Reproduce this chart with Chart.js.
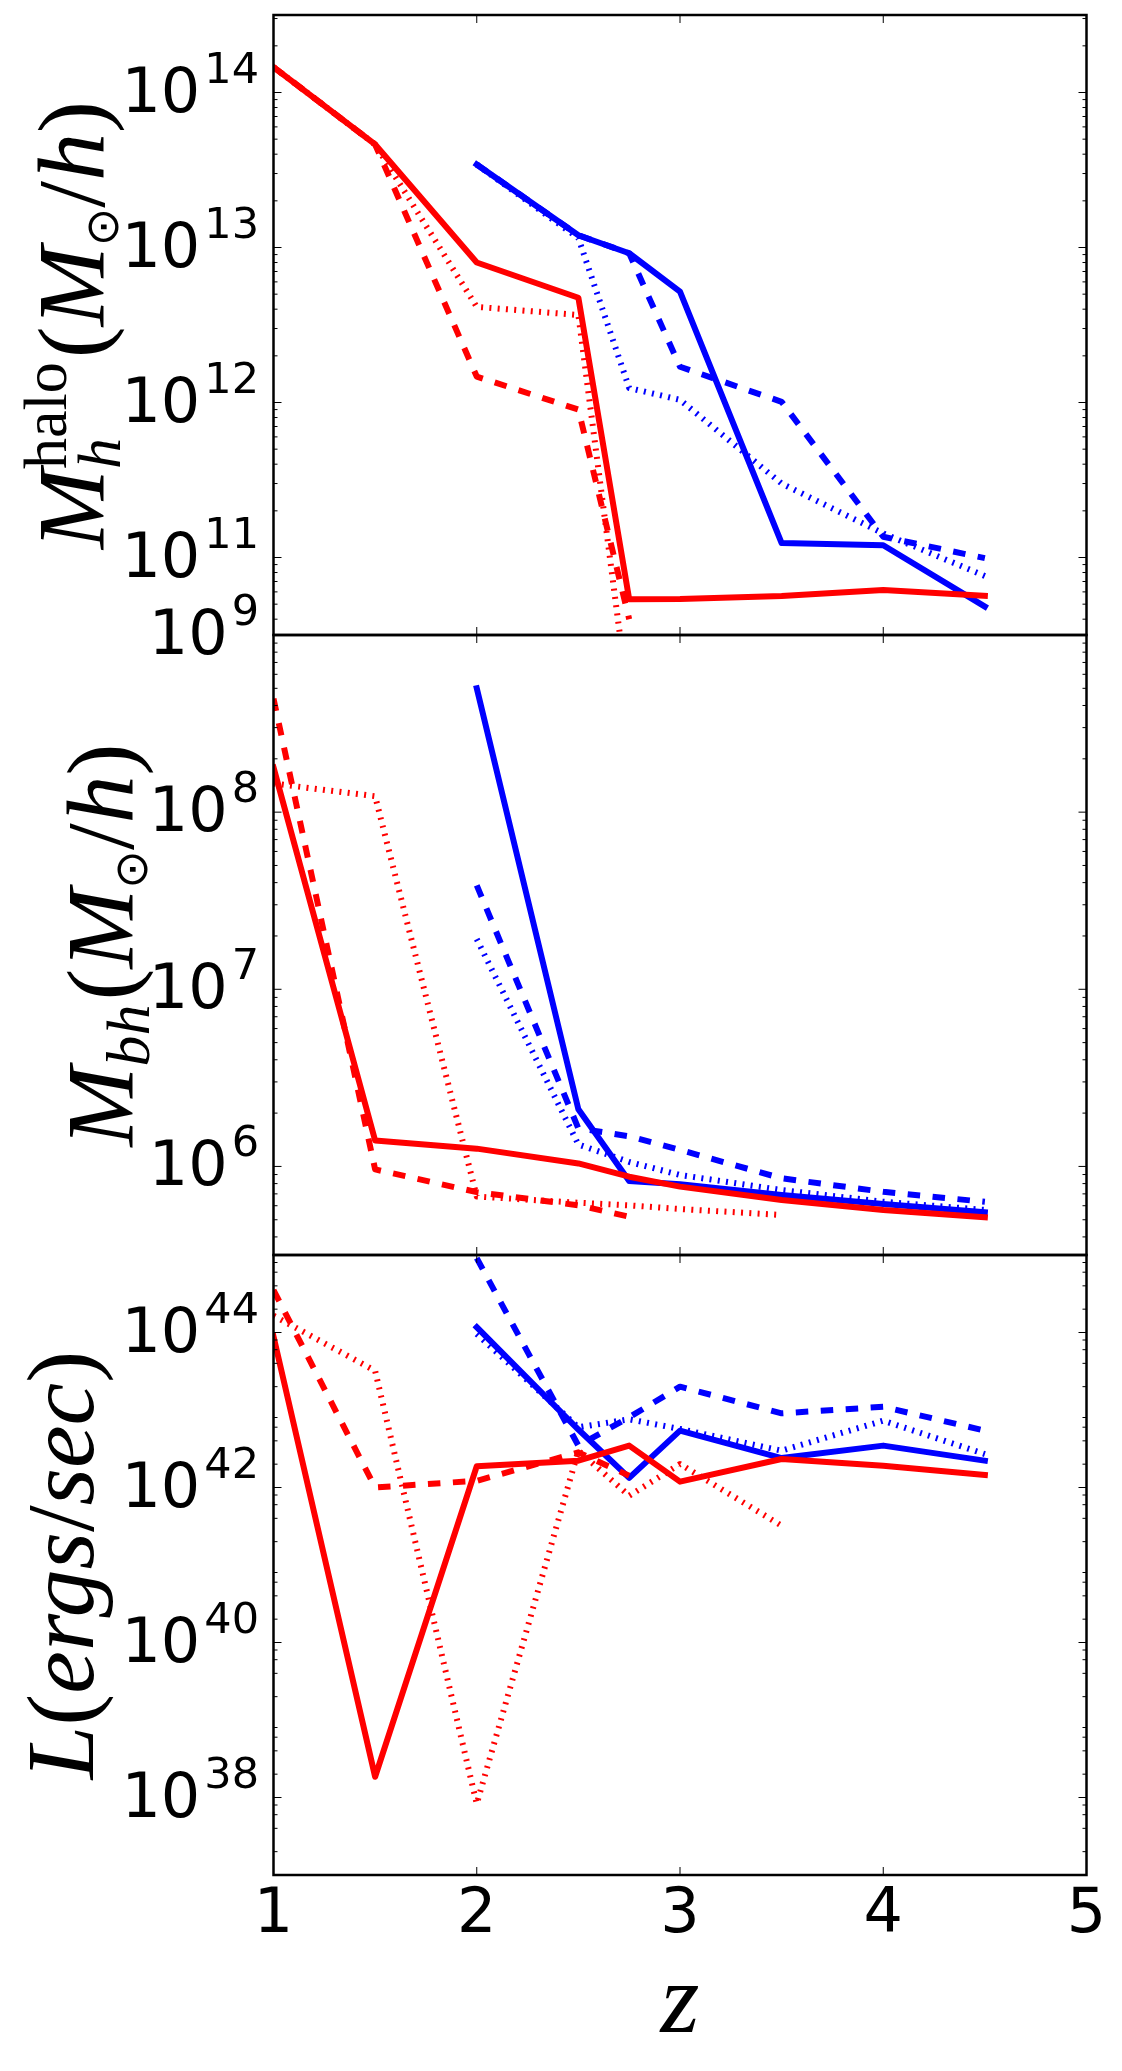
<!DOCTYPE html>
<html>
<head>
<meta charset="utf-8">
<script src="https://cdn.jsdelivr.net/npm/chart.js@4.4.0/dist/chart.umd.min.js"></script>
<style>
  html, body { margin: 0; padding: 0; background: #fff; }
  #wrap { position: relative; width: 1122px; height: 2071px; }
  #wrap canvas { position: absolute; left: 0; top: 0; }
</style>
</head>
<body>
<div id="wrap">
  <canvas id="haloChart" width="1122" height="2071"></canvas>
  <canvas id="bhChart" width="1122" height="2071"></canvas>
  <canvas id="lumChart" width="1122" height="2071"></canvas>
</div>
<script>
// redshift of each snapshot
const redshifts = [1, 1.5, 2, 2.5, 2.75, 3, 3.5, 4, 4.5];
const xTickValues = [1, 2, 3, 4, 5];

// halo mass M_h (M_sun/h)
const haloRedSolid   = [1.46e14, 4.62e13, 8.0e12, 4.74e12, 5.37e10, 5.4e10, 5.65e10, 6.17e10, 5.65e10];
const haloRedDashed  = [1.46e14, 4.62e13, 1.47e12, 9.0e11, 4.0e10, null, null, null, null];
const haloRedDotted  = [1.46e14, 4.62e13, 4.14e12, 3.67e12, 1.1e10, null, null, null, null];
const haloBlueSolid  = [null, null, 3.43e13, 1.2e13, 9.18e12, 5.19e12, 1.24e11, 1.2e11, 4.82e10];
const haloBlueDashed = [null, null, 3.43e13, 1.2e13, 9.18e12, 1.7e12, 1.01e12, 1.36e11, 9.9e10];
const haloBlueDotted = [null, null, 3.43e13, 1.15e13, 1.24e12, 1.04e12, 3.0e11, 1.43e11, 7.6e10];
const haloTickExps = [11, 12, 13, 14];

// black hole mass M_bh (M_sun/h)
const bhRedSolid   = [1.79e8, 1.4e6, 1.26e6, 1.04e6, 8.75e5, 7.69e5, 6.46e5, 5.68e5, 5.16e5];
const bhRedDashed  = [4.37e8, 9.62e5, 7.16e5, 6.03e5, 5.2e5, null, null, null, null];
const bhRedDotted  = [1.45e8, 1.23e8, 6.76e5, 6.24e5, 6.03e5, 5.75e5, 5.32e5, null, null];
const bhBlueSolid  = [null, null, 5.0e8, 2.1e6, 8.28e5, 7.93e5, 6.9e5, 6.14e5, 5.51e5];
const bhBlueDashed = [null, null, 3.86e7, 1.64e6, 1.48e6, 1.24e6, 8.57e5, 7.19e5, 6.31e5];
const bhBlueDotted = [null, null, 1.92e7, 1.33e6, 1.06e6, 8.95e5, 7.36e5, 6.32e5, 5.68e5];
const bhTickExps = [6, 7, 8, 9];

// luminosity L (ergs/sec)
const lumRedSolid   = [8.9e43, 1.85e38, 1.88e42, 2.22e42, 3.47e42, 1.19e42, 2.33e42, 1.91e42, 1.45e42];
const lumRedDashed  = [3.53e44, 1.0e42, 1.22e42, 2.84e42, 1.42e42, null, null, null, null];
const lumRedDotted  = [1.65e44, 3.21e43, 8.3e37, 2.99e42, 7.83e41, 2.01e42, 3.21e41, null, null];
const lumBlueSolid  = [null, null, 1.17e44, 5.6e42, 1.33e42, 5.41e42, 2.4e42, 3.47e42, 2.22e42];
const lumBlueDashed = [null, null, 9.1e44, 3.47e42, 8.05e42, 2.0e43, 9.06e42, 1.1e43, 5.41e42];
const lumBlueDotted = [null, null, 9.57e43, 5.98e42, 7.59e42, 5.69e42, 2.99e42, 7.28e42, 2.7e42];
const lumTickExps = [38, 40, 42, 44];

const W = 1122, H = 2071;
const PLOT_LEFT = 273.5, PLOT_RIGHT = 1086.5;
const SERIF = '"Liberation Serif", "DejaVu Serif", serif';
const SANS = '"DejaVu Sans", sans-serif';
const RED = '#ff0000', BLUE = '#0000ff';

function pts(ys) {
  const out = [];
  redshifts.forEach((z, i) => { if (ys[i] !== null) out.push({ x: z, y: ys[i] }); });
  return out;
}

function line(ys, color, style) {
  let dash = [];
  if (style === 'dashed') dash = [12.5, 12.5];
  if (style === 'dotted') dash = [2, 6.3];
  return {
    data: pts(ys),
    borderColor: color,
    borderWidth: 6,
    borderDash: dash,
    borderCapStyle: style === 'solid' ? 'square' : 'butt',
    borderJoinStyle: 'round',
    pointRadius: 0,
    tension: 0,
    fill: false
  };
}

function drawMath(ctx, parts, baseX, centerY) {
  let total = 0;
  parts.forEach(p => {
    ctx.font = p.font;
    p.w = ctx.measureText(p.text).width;
    if (!p.stack) total += p.w + (p.kern || 0);
  });
  ctx.save();
  ctx.translate(baseX, centerY);
  ctx.rotate(-Math.PI / 2);
  ctx.textAlign = 'left';
  ctx.textBaseline = 'alphabetic';
  let x = -total / 2;
  parts.forEach(p => {
    ctx.font = p.font;
    ctx.fillText(p.text, x + (p.kern || 0), p.dy || 0);
    if (!p.stack) x += p.w + (p.kern || 0);
  });
  ctx.restore();
}

const panelDecor = {
  id: 'panelDecor',
  afterDraw(chart, args, o) {
    const ctx = chart.ctx;
    const a = chart.chartArea;
    const xs = chart.scales.x, ys = chart.scales.y;
    ctx.save();
    ctx.strokeStyle = '#000';
    ctx.fillStyle = '#000';

    // ticks, inside on all four sides
    ctx.lineWidth = 1;
    ctx.beginPath();
    const yTick = (v, len) => {
      const py = ys.getPixelForValue(v);
      if (py < a.top + 1 || py > a.bottom - 1) return;
      ctx.moveTo(a.left, py); ctx.lineTo(a.left + len, py);
      ctx.moveTo(a.right, py); ctx.lineTo(a.right - len, py);
    };
    const lo = Math.floor(Math.log10(ys.min)) - 1, hi = Math.ceil(Math.log10(ys.max)) + 1;
    for (let k = lo; k <= hi; k++) {
      if (o.tickExps.includes(k) || (o.step === 1) || (k % 2 === 0)) {
        if (o.step === 1 || k % 2 === 0) yTick(Math.pow(10, k), 8);
      }
      o.subs.forEach(m => yTick(m * Math.pow(10, k), 4));
    }
    xTickValues.forEach(z => {
      const px = xs.getPixelForValue(z);
      if (px < a.left + 1 || px > a.right - 1) return;
      ctx.moveTo(px, a.top); ctx.lineTo(px, a.top + 8);
      ctx.moveTo(px, a.bottom); ctx.lineTo(px, a.bottom - 8);
    });
    ctx.stroke();

    // frame
    ctx.lineWidth = 2.5;
    ctx.strokeRect(a.left, a.top, a.right - a.left, a.bottom - a.top);

    // y tick labels 10^k
    ctx.textAlign = 'right';
    ctx.textBaseline = 'alphabetic';
    o.tickExps.forEach(k => {
      const py = ys.getPixelForValue(Math.pow(10, k));
      const exp = String(k);
      ctx.font = '43px ' + SANS;
      const ew = ctx.measureText(exp).width;
      ctx.fillText(exp, 259, py + 19 - 29);
      ctx.font = '62px ' + SANS;
      ctx.fillText('10', 259 - ew - 4, py + 19);
    });

    // x tick labels and axis title on the bottom panel
    if (o.xLabels) {
      ctx.textAlign = 'center';
      ctx.font = '62px ' + SANS;
      xTickValues.forEach(z => {
        ctx.fillText(String(z), xs.getPixelForValue(z), 1932);
      });
      ctx.font = 'italic 100px ' + SERIF;
      ctx.fillText('z', (a.left + a.right) / 2, 2032);
    }

    drawMath(ctx, o.title, o.titleX, (a.top + a.bottom) / 2);
    ctx.restore();
  }
};

function makePanel(id, top, bottom, yMin, yMax, series, decor) {
  new Chart(document.getElementById(id), {
    type: 'line',
    data: {
      datasets: [
        line(series[0], RED, 'solid'),
        line(series[1], RED, 'dashed'),
        line(series[2], RED, 'dotted'),
        line(series[3], BLUE, 'solid'),
        line(series[4], BLUE, 'dashed'),
        line(series[5], BLUE, 'dotted')
      ]
    },
    options: {
      responsive: false,
      animation: false,
      devicePixelRatio: 1,
      layout: { padding: { left: PLOT_LEFT, right: W - PLOT_RIGHT, top: top, bottom: H - bottom } },
      plugins: { legend: { display: false }, tooltip: { enabled: false }, panelDecor: decor },
      scales: {
        x: { type: 'linear', min: 1, max: 5, display: false },
        y: { type: 'logarithmic', min: yMin, max: yMax, display: false }
      }
    },
    plugins: [panelDecor]
  });
}

const mi = s => 'italic ' + s + 'px ' + SERIF;
const rm = s => s + 'px ' + SERIF;

makePanel('haloChart', 15, 635, Math.pow(10, 10.5), Math.pow(10, 14.5),
  [haloRedSolid, haloRedDashed, haloRedDotted, haloBlueSolid, haloBlueDashed, haloBlueDotted],
  {
    tickExps: haloTickExps, step: 1, subs: [2, 3, 4, 5, 6, 7, 8, 9], titleX: 104,
    title: [
      { text: 'M', font: mi(96) },
      { text: 'h', font: mi(62), dy: 16, stack: true },
      { text: 'halo', font: rm(62), dy: -38 },
      { text: '(', font: rm(96), kern: 4 },
      { text: 'M', font: mi(96) },
      { text: '\u2299', font: '46px ' + SANS, dy: 14 },
      { text: '/', font: rm(96) },
      { text: 'h', font: mi(96) },
      { text: ')', font: rm(96) }
    ]
  });

makePanel('bhChart', 635, 1255, Math.pow(10, 5.5), 1e9,
  [bhRedSolid, bhRedDashed, bhRedDotted, bhBlueSolid, bhBlueDashed, bhBlueDotted],
  {
    tickExps: bhTickExps, step: 1, subs: [2, 3, 4, 5, 6, 7, 8, 9], titleX: 133,
    title: [
      { text: 'M', font: mi(96) },
      { text: 'bh', font: mi(62), dy: 16 },
      { text: '(', font: rm(96), kern: 4 },
      { text: 'M', font: mi(96) },
      { text: '\u2299', font: '46px ' + SANS, dy: 14 },
      { text: '/', font: rm(96) },
      { text: 'h', font: mi(96) },
      { text: ')', font: rm(96) }
    ]
  });

makePanel('lumChart', 1255, 1875, 1e37, 1e45,
  [lumRedSolid, lumRedDashed, lumRedDotted, lumBlueSolid, lumBlueDashed, lumBlueDotted],
  {
    tickExps: lumTickExps, step: 2, subs: [2, 4, 6, 8], titleX: 93, xLabels: true,
    title: [
      { text: 'L', font: mi(96) },
      { text: '(', font: rm(96) },
      { text: 'ergs', font: mi(96) },
      { text: '/', font: rm(96) },
      { text: 'sec', font: mi(96) },
      { text: ')', font: rm(96) }
    ]
  });
</script>
</body>
</html>
